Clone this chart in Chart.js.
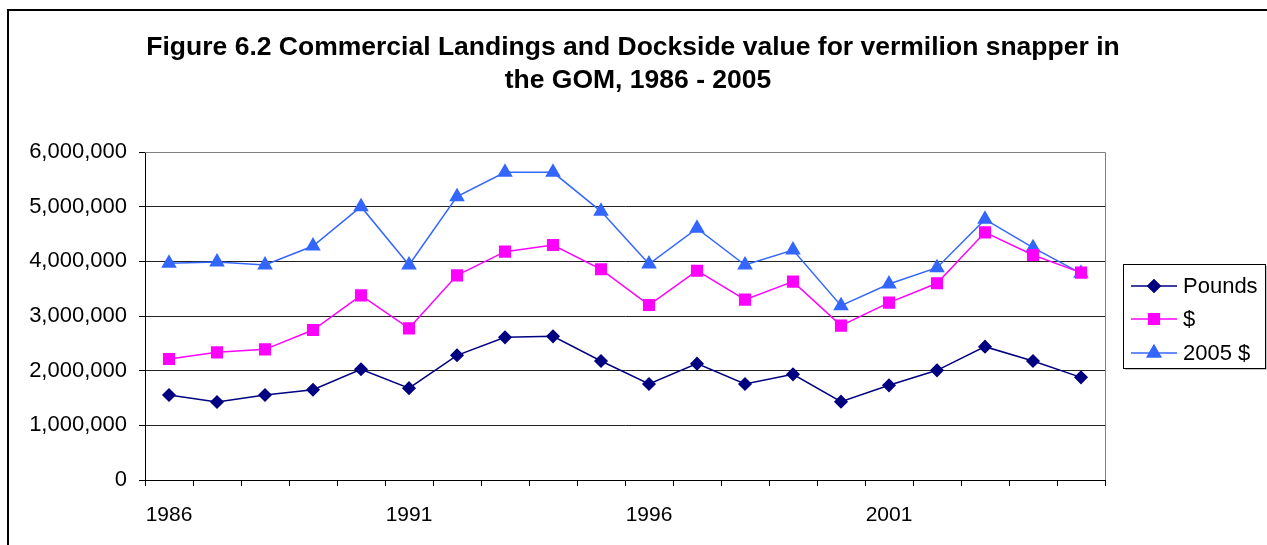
<!DOCTYPE html>
<html>
<head>
<meta charset="utf-8">
<script src="https://cdn.jsdelivr.net/npm/chart.js@4/dist/chart.umd.min.js"></script>
<style>
  html, body { margin: 0; padding: 0; background: #fff; }
  #wrap { position: relative; width: 1267px; height: 545px; overflow: hidden; }
  #frame { position: absolute; left: 7px; top: 9px; width: 1300px; height: 600px;
           border-top: 2px solid #000; border-left: 2px solid #000; box-sizing: border-box; }
  canvas { position: absolute; left: 0; top: 0; }
</style>
</head>
<body>
<div id="wrap">
  <div id="frame"></div>
  <canvas id="chart" width="1267" height="545"></canvas>
</div>
<script>
// Data
const years = ["1986", "1987", "1988", "1989", "1990", "1991", "1992", "1993", "1994", "1995",
               "1996", "1997", "1998", "1999", "2000", "2001", "2002", "2003", "2004", "2005"];
const pounds = [1555000, 1427000, 1555000, 1652000, 2025000, 1680000, 2281000, 2610000, 2628000, 2177000,
                1756000, 2128000, 1756000, 1933000, 1433000, 1732000, 2006000, 2439000, 2177000, 1878000];
const dollars = [2213000, 2335000, 2390000, 2744000, 3378000, 2774000, 3744000, 4177000, 4299000, 3854000,
                 3201000, 3829000, 3299000, 3628000, 2823000, 3244000, 3598000, 4530000, 4116000, 3793000];
const dollars2005 = [3963000, 3988000, 3933000, 4280000, 5000000, 3933000, 5183000, 5628000, 5628000, 4915000,
                     3951000, 4604000, 3933000, 4207000, 3189000, 3585000, 3884000, 4768000, 4250000, 3780000];
const xLabelYears = ["1986", "1991", "1996", "2001"];
const titleLines = ["Figure 6.2 Commercial Landings and Dockside value for vermilion snapper in",
                    "the GOM, 1986 - 2005"];

const FONT = "'Liberation Sans', Arial, sans-serif";

// title, plot frame and boxed legend
const decorPlugin = {
  id: "decor",
  beforeDatasetsDraw(chart) {
    const { ctx, chartArea: a } = chart;
    ctx.save();
    ctx.strokeStyle = "#808080";
    ctx.lineWidth = 1;
    ctx.beginPath();
    ctx.moveTo(a.left, a.top + 0.5);
    ctx.lineTo(a.right + 0.5, a.top + 0.5);
    ctx.lineTo(a.right + 0.5, a.bottom);
    ctx.stroke();
    ctx.restore();
  },
  afterDraw(chart) {
    const ctx = chart.ctx;
    ctx.save();
    // title
    ctx.fillStyle = "#000";
    ctx.font = "bold 26.5px " + FONT;
    ctx.textAlign = "center";
    ctx.textBaseline = "middle";
    ctx.fillText(titleLines[0], 633, 48);
    ctx.fillText(titleLines[1], 638, 81);

    // legend
    const lx = 1123, ly = 264, lw = 142, lh = 104;
    ctx.fillStyle = "#c8c8c8";
    ctx.fillRect(lx + 2, ly + 2, lw, lh);
    ctx.fillStyle = "#fff";
    ctx.fillRect(lx, ly, lw, lh);
    ctx.strokeStyle = "#000";
    ctx.lineWidth = 1;
    ctx.strokeRect(lx + 0.5, ly + 0.5, lw, lh);
    const rows = [286, 319, 353];
    chart.data.datasets.forEach((ds, i) => {
      const y = rows[i];
      ctx.strokeStyle = ds.borderColor;
      ctx.lineWidth = 1.5;
      ctx.beginPath();
      ctx.moveTo(1131, y);
      ctx.lineTo(1177, y);
      ctx.stroke();
      Chart.helpers.drawPoint(ctx, {
        pointStyle: ds.pointStyle,
        radius: ds.pointRadius,
        rotation: 0,
        borderWidth: 1
      }, 1154, y);
      ctx.fillStyle = ds.pointBackgroundColor;
      ctx.strokeStyle = ds.pointBorderColor;
      ctx.fill();
      ctx.stroke();
      ctx.fillStyle = "#000";
      ctx.font = "22px " + FONT;
      ctx.textAlign = "left";
      ctx.textBaseline = "middle";
      ctx.fillText(ds.label, 1183, y + 1);
    });
    ctx.restore();
  }
};

new Chart(document.getElementById("chart"), {
  type: "line",
  data: {
    labels: years,
    datasets: [
      {
        label: "Pounds",
        data: pounds,
        borderColor: "#000080",
        backgroundColor: "#000080",
        pointBackgroundColor: "#000080",
        pointBorderColor: "#000080",
        pointStyle: "rectRot",
        pointRadius: 6,
        borderWidth: 1.5,
        tension: 0
      },
      {
        label: "$",
        data: dollars,
        borderColor: "#ff00ff",
        backgroundColor: "#ff00ff",
        pointBackgroundColor: "#ff00ff",
        pointBorderColor: "#ff00ff",
        pointStyle: "rect",
        pointRadius: 7.5,
        borderWidth: 1.5,
        tension: 0
      },
      {
        label: "2005 $",
        data: dollars2005,
        borderColor: "#3366ff",
        backgroundColor: "#3366ff",
        pointBackgroundColor: "#3366ff",
        pointBorderColor: "#3366ff",
        pointStyle: "triangle",
        pointRadius: 7.5,
        borderWidth: 1.5,
        tension: 0
      }
    ]
  },
  options: {
    responsive: false,
    animation: false,
    devicePixelRatio: 1,
    layout: { padding: { top: 152, right: 162, left: 0, bottom: 0 } },
    plugins: {
      legend: { display: false },
      title: { display: false },
      tooltip: { enabled: false }
    },
    scales: {
      x: {
        type: "category",
        offset: true,
        afterFit: (scale) => { scale.height = 65; },
        grid: {
          offset: true,
          drawOnChartArea: false,
          drawTicks: true,
          tickLength: 6,
          tickColor: "#000",
          color: "#000"
        },
        border: { display: true, color: "#000", width: 1 },
        ticks: {
          autoSkip: false,
          maxRotation: 0,
          padding: 17,
          color: "#000",
          font: { family: FONT, size: 21 },
          callback: function (value, index) {
            const lab = this.getLabelForValue(value);
            return xLabelYears.includes(lab) ? lab : "";
          }
        }
      },
      y: {
        min: 0,
        max: 6000000,
        afterFit: (scale) => { scale.width = 145; },
        grid: {
          drawTicks: true,
          tickLength: 6,
          tickColor: "#000",
          color: (c) => (c.tick && c.tick.value === 6000000 ? "#808080" : "#222")
        },
        border: { display: true, color: "#000", width: 1 },
        ticks: {
          stepSize: 1000000,
          padding: 12,
          color: "#000",
          font: { family: FONT, size: 22 },
          callback: (v) => v.toLocaleString("en-US")
        }
      }
    }
  },
  plugins: [decorPlugin]
});
</script>
</body>
</html>
